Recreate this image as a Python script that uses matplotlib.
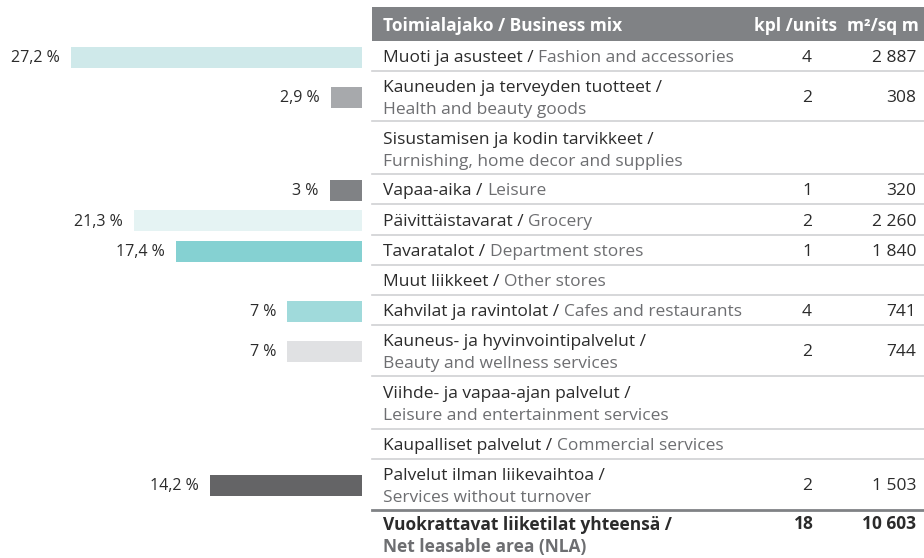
import matplotlib
matplotlib.use("Agg")
import matplotlib.pyplot as plt
from matplotlib.patches import Rectangle

plt.rcParams['font.family'] = ['Open Sans', 'DejaVu Sans']

# data
categories_fi = ["Muoti ja asusteet", "Kauneuden ja terveyden tuotteet",
                 "Sisustamisen ja kodin tarvikkeet", "Vapaa-aika", "Päivittäistavarat",
                 "Tavaratalot", "Muut liikkeet", "Kahvilat ja ravintolat",
                 "Kauneus- ja hyvinvointipalvelut", "Viihde- ja vapaa-ajan palvelut",
                 "Kaupalliset palvelut", "Palvelut ilman liikevaihtoa"]
categories_en = ["Fashion and accessories", "Health and beauty goods",
                 "Furnishing, home decor and supplies", "Leisure", "Grocery",
                 "Department stores", "Other stores", "Cafes and restaurants",
                 "Beauty and wellness services", "Leisure and entertainment services",
                 "Commercial services", "Services without turnover"]
two_lines = [False, True, True, False, False, False, False, False, True, True, False, True]
shares = [27.2, 2.9, None, 3, 21.3, 17.4, None, 7, 7, None, None, 14.2]
share_labels = ["27,2 %", "2,9 %", "", "3 %", "21,3 %", "17,4 %", "", "7 %", "7 %", "", "", "14,2 %"]
bar_colors = ["#cfe9ea", "#a7a9ac", None, "#808285", "#e5f3f3", "#85d1d2", None,
              "#a0dadb", "#e0e1e3", None, None, "#646466"]
units = [4, 2, None, 1, 2, 1, None, 4, 2, None, None, 2]
area = [2887, 308, None, 320, 2260, 1840, None, 741, 744, None, None, 1503]
total_units = 18
total_area = 10603

# layout (pixel rows)
row_edges = [41, 71, 121, 174, 204, 235, 265, 295, 325, 376, 429, 459, 510]
row_mid = [(a + b) / 2 for a, b in zip(row_edges[:-1], row_edges[1:])]

W, H = 924, 558
DARK = "#2b2b2b"
GREY = "#6d6e71"
FS = 12.5

def fmt(v):
    return f"{v:,}".replace(",", " ")

fig = plt.figure(figsize=(W / 100, H / 100), dpi=100)

# bars
ax_b = fig.add_axes([0, 0, 362 / W, 1])
ax_b.set_xlim(362 / 10.7, 0)
ax_b.set_ylim(H, 0)
ax_b.axis("off")
for y, v, c, lab in zip(row_mid, shares, bar_colors, share_labels):
    if v is None:
        continue
    ax_b.barh(y + 1, v, height=21, color=c, align="center")
    ax_b.annotate(lab, xy=(v, y + 2), xytext=(-8, 0), textcoords="offset points",
                  ha="right", va="center", fontsize=11.5, color=DARK)

# table
ax = fig.add_axes([0, 0, 1, 1])
ax.set_xlim(0, W)
ax.set_ylim(H, 0)
ax.axis("off")
ax.patch.set_alpha(0)

ax.add_patch(Rectangle((372, 7), W - 372, 34, color="#808285", lw=0))
ax.text(383, 26, "Toimialajako / Business mix", color="white", fontsize=FS,
        fontweight="bold", va="center")
ax.text(795, 26, "kpl /units", color="white", fontsize=FS, fontweight="bold",
        va="center", ha="center")
ax.text(919, 26, "m²/sq m", color="white", fontsize=FS, fontweight="bold",
        va="center", ha="right")

for e in row_edges[1:-1]:
    ax.plot([372, W], [e, e], color="#d0d1d3", lw=1.2)
ax.plot([372, W], [row_edges[-1], row_edges[-1]], color="#808285", lw=2)

for i, y in enumerate(row_mid):
    y = y + 2
    if two_lines[i]:
        ax.text(383, y - 10, categories_fi[i] + " /", color=DARK, fontsize=FS, va="center")
        ax.text(383, y + 12, categories_en[i], color=GREY, fontsize=FS, va="center")
    else:
        t = ax.text(383, y, categories_fi[i] + " / ", color=DARK, fontsize=FS,
                    va="center")
        ax.annotate(categories_en[i], xy=(1, 0.5), xycoords=t, va="center",
                    ha="left", color=GREY, fontsize=FS)
    if units[i] is not None:
        ax.text(807, y, str(units[i]), color=DARK, fontsize=FS, va="center", ha="center")
        ax.text(916, y, fmt(area[i]), color=DARK, fontsize=FS, va="center", ha="right")

ax.text(383, 525, "Vuokrattavat liiketilat yhteensä /", color=DARK, fontsize=FS,
        fontweight="bold", va="center")
ax.text(383, 547, "Net leasable area (NLA)", color=GREY, fontsize=FS,
        fontweight="bold", va="center")
ax.text(804, 524, str(total_units), color=DARK, fontsize=FS, fontweight="bold",
        va="center", ha="center")
ax.text(916, 524, fmt(total_area), color=DARK, fontsize=FS, fontweight="bold",
        va="center", ha="right")

fig.savefig("out.png", dpi=100)
